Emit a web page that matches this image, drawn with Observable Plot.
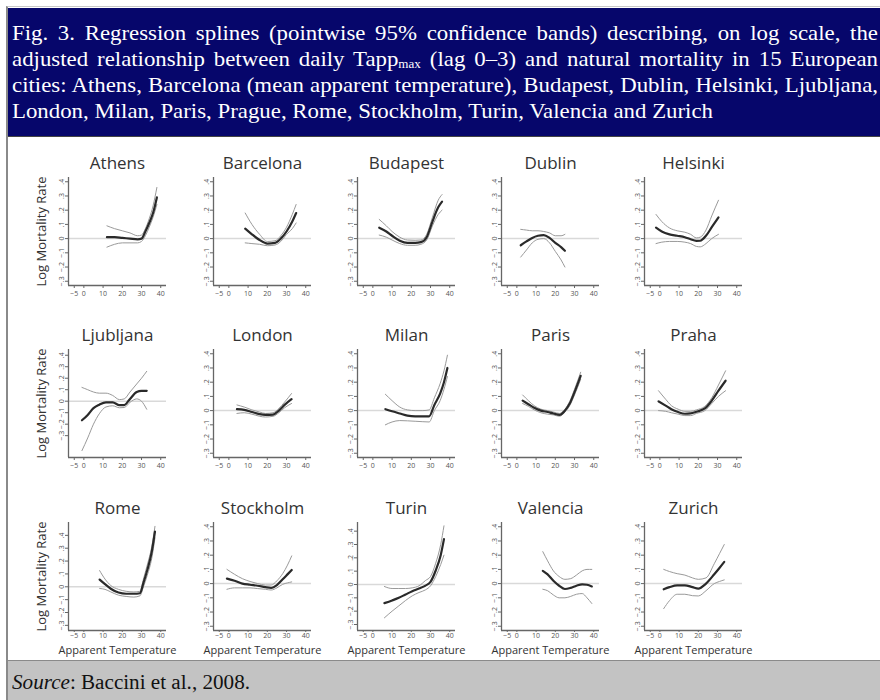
<!DOCTYPE html>
<html><head><meta charset="utf-8">
<script src="https://cdn.jsdelivr.net/npm/d3@7"></script>
<script src="https://cdn.jsdelivr.net/npm/@observablehq/plot@0.6"></script>
<style>
body{margin:0;width:880px;height:700px;overflow:hidden;background:#fff;position:relative;}
#frame{position:absolute;left:6px;top:6px;width:900px;height:700px;border-left:2px solid #8a8a8a;border-top:1px solid #c8c8c8;}
#header{position:absolute;left:8px;top:8px;width:900px;height:128px;background:#06066b;border-bottom:1px solid #444;}
.hl{position:absolute;left:4px;white-space:nowrap;color:#fff;font-family:"Liberation Serif",serif;font-size:21px;line-height:26px;transform-origin:0 0;text-align:justify;text-align-last:justify;}
.hl.last{text-align:left;text-align-last:left;}
.hl sub{font-size:12px;vertical-align:-2px;}
#footer{position:absolute;left:8px;top:660px;width:900px;height:40px;background:#c3c3c3;border-top:1px solid #8a8a8a;}
#src{position:absolute;left:4px;top:9px;white-space:nowrap;font-family:"Liberation Serif",serif;font-size:20px;line-height:24px;color:#111;transform-origin:0 0;}
</style></head>
<body>
<div id="frame"></div>
<div id="header">
<div class="hl" id="l1" style="top:12px">Fig. 3. Regression splines (pointwise 95% confidence bands) describing, on log scale, the</div>
<div class="hl" id="l2" style="top:38px">adjusted relationship between daily Tapp<sub>max</sub> (lag 0–3) and natural mortality in 15 European</div>
<div class="hl" id="l3" style="top:64px">cities: Athens, Barcelona (mean apparent temperature), Budapest, Dublin, Helsinki, Ljubljana,</div>
<div class="hl last" id="l4" style="top:90px">London, Milan, Paris, Prague, Rome, Stockholm, Turin, Valencia and Zurich</div>
</div>
<div id="footer"><div id="src"><i>Source</i>: Baccini et al., 2008.</div></div>
<script>
// ---- data: rows are [apparent temperature, fit, lower 95%, upper 95%] ----
const cityNames = ["Athens","Barcelona","Budapest","Dublin","Helsinki","Ljubljana","London","Milan","Paris","Praha","Rome","Stockholm","Turin","Valencia","Zurich"];
const xTicks = [-5, 0, 10, 20, 30, 40];
const yTicks = [-0.3, -0.2, -0.1, 0, 0.1, 0.2, 0.3, 0.4];
const xDomain = [-8, 43];
const yDomainStd = [-0.33, 0.43];
const yDomainLjubljana = [-0.49, 0.45];
const yDomainRome = [-0.34, 0.5];
const yDomainTurin = [-0.345, 0.465];

const athens = [[12,0.01,-0.06,0.09],[16,0.01,-0.04,0.07],[20,0.005,-0.03,0.055],[24,0,-0.03,0.04],[28,-0.005,-0.03,0.02],[30,0,-0.02,0.025],[32,0.05,0.02,0.07],[34,0.11,0.08,0.14],[36,0.18,0.15,0.23],[38,0.29,0.24,0.36]];
const barcelona = [[8.5,0.07,-0.03,0.18],[12,0.03,-0.035,0.1],[16,-0.01,-0.04,0.03],[20,-0.035,-0.05,-0.02],[24,-0.03,-0.045,-0.015],[27,0,-0.02,0.02],[30,0.05,0.03,0.08],[33,0.12,0.07,0.17],[35,0.18,0.11,0.24]];
const budapest = [[3.3,0.077,0.025,0.135],[7,0.05,0.01,0.09],[10,0.02,-0.01,0.05],[14,-0.015,-0.035,0.01],[18,-0.03,-0.047,-0.01],[22,-0.03,-0.047,-0.012],[25,-0.025,-0.04,-0.01],[28,0.01,-0.01,0.03],[31,0.12,0.09,0.15],[34,0.22,0.17,0.27],[36,0.26,0.2,0.31]];
const dublin = [[2,-0.047,-0.13,0.065],[5,-0.02,-0.08,0.06],[8,0.005,-0.03,0.055],[11,0.02,-0.005,0.055],[14,0.025,0,0.05],[17,0.005,-0.03,0.04],[20,-0.03,-0.09,0.02],[23,-0.06,-0.15,0.02],[25,-0.086,-0.2,0.03]];
const helsinki = [[-2,0.077,-0.035,0.17],[1,0.05,-0.025,0.12],[5,0.03,-0.02,0.075],[9,0.02,-0.02,0.055],[13,0.01,-0.025,0.045],[16,-0.005,-0.035,0.03],[19,-0.016,-0.055,0.005],[21,-0.015,-0.058,0.01],[24,0.02,-0.035,0.06],[27,0.08,0,0.16],[30.5,0.15,0.03,0.27]];
const ljubljana = [[-1,-0.166,-0.43,0.12],[2,-0.12,-0.32,0.1],[5,-0.06,-0.2,0.08],[8,-0.03,-0.11,0.07],[11.5,-0.01,-0.05,0.07],[15,-0.01,-0.04,0.05],[18.5,-0.034,-0.057,0.014],[21,-0.034,-0.055,0.02],[24,0.02,-0.01,0.08],[27.5,0.08,0.02,0.15],[30,0.09,0,0.2],[32.7,0.09,-0.07,0.26]];
const london = [[4.2,0.01,-0.02,0.04],[8,0.005,-0.015,0.025],[12,-0.01,-0.025,0.005],[16,-0.025,-0.04,-0.01],[19,-0.03,-0.045,-0.02],[23,-0.028,-0.04,-0.015],[26,0,-0.015,0.015],[29,0.04,0.02,0.06],[32.6,0.08,0.05,0.12]];
const milan = [[6.5,0.01,-0.1,0.115],[10,-0.005,-0.08,0.07],[14,-0.02,-0.07,0.025],[18,-0.035,-0.072,0.005],[22,-0.04,-0.075,0],[26,-0.04,-0.078,0],[29.3,-0.04,-0.08,0.005],[32,0.04,0,0.09],[35,0.12,0.07,0.19],[37,0.2,0.15,0.28],[38.8,0.3,0.24,0.39]];
const paris = [[3,0.07,0.05,0.11],[6,0.045,0.03,0.07],[9,0.02,0.005,0.035],[12.5,0,-0.015,0.01],[16,-0.01,-0.025,0],[19,-0.02,-0.03,-0.01],[22.2,-0.03,-0.04,-0.02],[25,0,-0.01,0.01],[27.5,0.05,0.035,0.065],[30,0.13,0.11,0.15],[33.2,0.245,0.22,0.27]];
const praha = [[-0.7,0.065,0,0.14],[3,0.035,-0.005,0.08],[6,0.01,-0.015,0.035],[9.5,-0.01,-0.025,0.01],[13,-0.022,-0.035,-0.005],[16,-0.02,-0.035,-0.005],[19,-0.008,-0.02,0.005],[23.4,0.015,0,0.03],[27,0.07,0.05,0.09],[30.5,0.14,0.1,0.18],[34.2,0.21,0.14,0.28]];
const rome = [[8.2,0.056,-0.013,0.126],[11,0.02,-0.02,0.06],[14,-0.015,-0.04,0.01],[18,-0.045,-0.065,-0.02],[22,-0.054,-0.075,-0.035],[26,-0.054,-0.08,-0.04],[29.2,-0.05,-0.07,-0.035],[31,0.03,0,0.06],[33,0.13,0.09,0.17],[35.3,0.27,0.22,0.31],[37,0.43,0.38,0.47]];
const stockholm = [[-1,0.035,-0.04,0.1],[3,0.02,-0.03,0.065],[7,0,-0.03,0.035],[11,-0.008,-0.03,0.015],[15,-0.015,-0.035,0],[19,-0.025,-0.04,-0.01],[22,-0.03,-0.045,-0.01],[25,-0.01,-0.03,0.02],[28,0.03,-0.005,0.07],[30.5,0.065,0.005,0.13],[32.7,0.096,0.012,0.195]];
const turin = [[6,-0.14,-0.25,-0.015],[10,-0.12,-0.2,-0.03],[13.5,-0.1,-0.16,-0.03],[17,-0.075,-0.12,-0.03],[20.5,-0.05,-0.085,-0.025],[24,-0.03,-0.06,-0.01],[27.4,-0.008,-0.04,0.03],[30,0.02,-0.01,0.06],[32.7,0.105,0.06,0.16],[35.3,0.22,0.15,0.3],[37,0.34,0.22,0.44]];
const valencia = [[13.5,0.09,-0.04,0.225],[16,0.065,-0.05,0.16],[19,0.02,-0.08,0.09],[22,-0.015,-0.1,0.05],[25,-0.038,-0.1,0.03],[28,-0.03,-0.09,0.035],[31,-0.015,-0.075,0.06],[34,-0.005,-0.07,0.09],[36.5,-0.008,-0.1,0.1],[39,-0.02,-0.14,0.1]];
const zurich = [[2,-0.04,-0.176,0.1],[5,-0.025,-0.12,0.085],[9,-0.012,-0.075,0.07],[13,-0.012,-0.075,0.06],[17,-0.025,-0.085,0.04],[20,-0.035,-0.087,0.03],[24,0,-0.05,0.04],[28.3,0.066,0,0.14],[31,0.11,0.015,0.21],[33.5,0.153,0.026,0.275]];

const cityRows = [athens,barcelona,budapest,dublin,helsinki,ljubljana,london,milan,paris,praha,rome,stockholm,turin,valencia,zurich];
const cityYDomains = [yDomainStd,yDomainStd,yDomainStd,yDomainStd,yDomainStd,yDomainLjubljana,yDomainStd,yDomainStd,yDomainStd,yDomainStd,yDomainRome,yDomainStd,yDomainTurin,yDomainStd,yDomainStd];
const yLabel = "Log Mortality Rate";
const xLabel = "Apparent Temperature";

// ---- layout ----
const colAxis = [68, 213, 357, 501, 644];
const rowTop = [177, 349, 522];
const fmt = d => d === 0 ? "0" : d3.format(".1f")(d).replace("0.", ".");

cityNames.forEach((name, i) => {
  const col = i % 5, row = Math.floor(i / 5);
  const rows = cityRows[i], yDomain = cityYDomains[i];
  const ml = col === 0 ? 52 : 30, mt = 30, h = 108, mb = row === 2 ? 34 : 20, mr = 6, pw = 98;
  const marks = [
    Plot.ruleY([0], {stroke: "#d9d9d9", strokeWidth: 1.5}),
    Plot.axisY(yTicks, {tickFormat: fmt, tickRotate: -90, tickSize: 3, tickPadding: 2, fontSize: 7, fill: "#555", stroke: "#666", label: null}),
    Plot.axisX(xTicks, {tickSize: row === 2 ? 2 : 3, tickPadding: row === 2 ? 1 : 3, fontSize: 7, fill: "#555", stroke: "#666", label: null}),
    Plot.ruleX([xDomain[0]], {stroke: "#666", strokeWidth: 1.3}),
    Plot.ruleY([yDomain[0]], {stroke: "#666", strokeWidth: 1.3}),
    Plot.line(rows, {x: d => d[0], y: d => d[2], stroke: "#9a9a9a", strokeWidth: 1, curve: "monotone-x"}),
    Plot.line(rows, {x: d => d[0], y: d => d[3], stroke: "#9a9a9a", strokeWidth: 1, curve: "monotone-x"}),
    Plot.line(rows, {x: d => d[0], y: d => d[1], stroke: "#2a2a2a", strokeWidth: 2.2, curve: "monotone-x"}),
    Plot.text([name], {frameAnchor: "top", lineAnchor: "middle", dy: -14, fontSize: 17, fill: "#333", fontFamily: "Open Sans"})
  ];
  if (col === 0) marks.push(Plot.text([yLabel], {frameAnchor: "left", dx: -27, rotate: -90, textAnchor: "middle", fontSize: 13, fill: "#333", fontFamily: "Open Sans"}));
  if (row === 2) marks.push(Plot.text([xLabel], {frameAnchor: "bottom", lineAnchor: "middle", dy: 20, fontSize: 11, fill: "#333", fontFamily: "Open Sans", letterSpacing: "-0.3px"}));
  const chart = Plot.plot({
    width: ml + pw + mr, height: mt + h + mb,
    marginLeft: ml, marginTop: mt, marginBottom: mb, marginRight: mr,
    x: {domain: xDomain},
    y: {domain: yDomain},
    style: {background: "transparent", fontFamily: "Open Sans", overflow: "visible"},
    marks
  });
  chart.style.position = "absolute";
  chart.style.left = (colAxis[col] - ml) + "px";
  chart.style.top = (rowTop[row] - mt) + "px";
  document.body.appendChild(chart);
});

// ---- header text fitting ----
const l4 = document.getElementById("l4");
const s = 701 / l4.getBoundingClientRect().width;
["l1","l2","l3","l4"].forEach(id => {
  const el = document.getElementById(id);
  el.style.transform = `scaleX(${s})`;
  if (id !== "l4") el.style.width = (866 / s) + "px";
});
const src = document.getElementById("src");
src.style.transform = `scaleX(${238 / src.getBoundingClientRect().width})`;
</script>
</body></html>
